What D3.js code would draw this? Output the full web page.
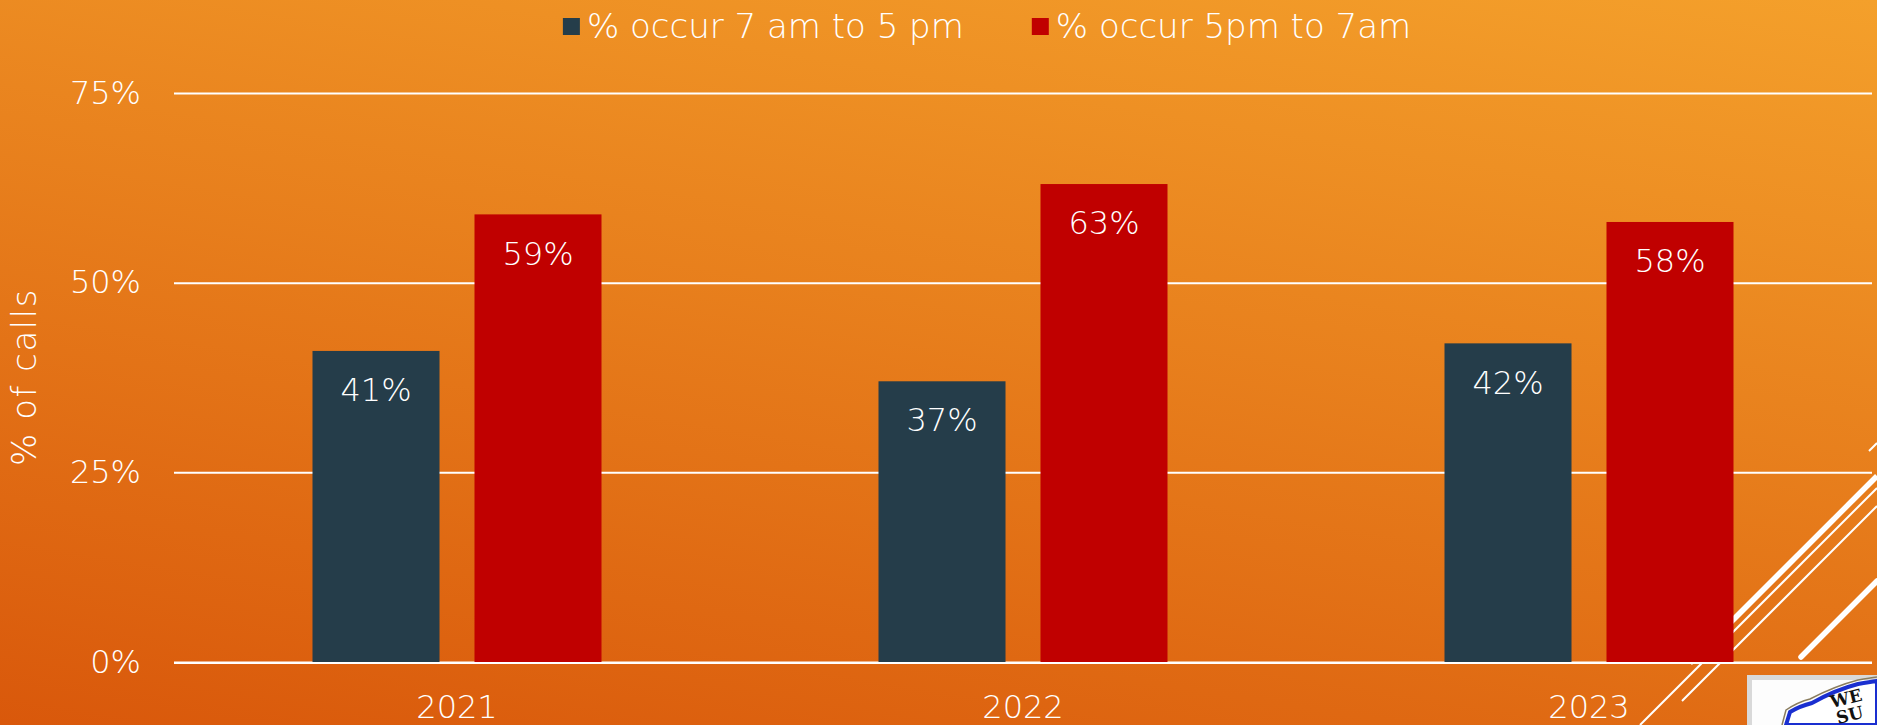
<!DOCTYPE html>
<html>
<head>
<meta charset="utf-8">
<script src="https://cdn.jsdelivr.net/npm/d3@7"></script>
<style>
  html, body { margin: 0; padding: 0; overflow: hidden; }
  svg { display: block; }
  text { font-family: "Century Gothic", "DejaVu Sans", sans-serif; font-weight: 200; fill: #fff; }
</style>
</head>
<body>
<svg id="chart" width="1877" height="725"></svg>
<script>
var years = ["2021", "2022", "2023"];
var seriesNames = ["% occur 7 am to 5 pm", "% occur 5pm to 7am"];
var dayShare = [0.41, 0.37, 0.42];
var nightShare = [0.59, 0.63, 0.58];
var yTicks = [0, 0.25, 0.5, 0.75];
var seriesColors = ["#253d4a", "#c00000"];

var W = 1877, H = 725,
  numSize = 32,   // digits
  wordSize = 34,  // legend / title
  plot = { left: 174, right: 1872, top: 93, bottom: 662 };

var svg = d3.select("#chart");

// slide background
var grad = svg.append("defs").append("linearGradient")
  .attr("id", "bg")
  .attr("gradientUnits", "userSpaceOnUse")
  .attr("x1", 1877).attr("y1", 0)
  .attr("x2", 1716).attr("y2", 1001);
grad.append("stop").attr("offset", 0).attr("stop-color", "#f4a02b");
grad.append("stop").attr("offset", 1).attr("stop-color", "#d9580b");

svg.append("rect")
  .attr("width", W).attr("height", H)
  .attr("fill", "url(#bg)");

// theme decoration, bottom right
var deco = svg.append("g").attr("stroke", "#fff").attr("fill", "none");
deco.append("line").attr("x1", 1690).attr("y1", 663).attr("x2", 1877).attr("y2", 476)
  .attr("stroke-width", 5.5);
deco.append("line").attr("x1", 1640).attr("y1", 725).attr("x2", 1877).attr("y2", 488)
  .attr("stroke-width", 2);
deco.append("line").attr("x1", 1682).attr("y1", 701).attr("x2", 1877).attr("y2", 506)
  .attr("stroke-width", 2);
deco.append("line").attr("x1", 1801).attr("y1", 657).attr("x2", 1877).attr("y2", 581)
  .attr("stroke-width", 5.5).attr("stroke-linecap", "round");
deco.append("line").attr("x1", 1869).attr("y1", 451).attr("x2", 1877).attr("y2", 443)
  .attr("stroke-width", 2);

// logo, cut by the slide edge
var logo = svg.append("g");
logo.append("rect").attr("x", 1747).attr("y", 675).attr("width", 130).attr("height", 50)
  .attr("fill", "#d9d9d9");
logo.append("rect").attr("x", 1752).attr("y", 680).attr("width", 125).attr("height", 45)
  .attr("fill", "#fdfdfd");
logo.append("path")
  .attr("d", "M1786,725 L1790,712 Q1800,706 1812,703 Q1835,690 1858,684 Q1870,682 1877,681 L1877,725 Z")
  .attr("fill", "#fff").attr("stroke", "#1a2fd0").attr("stroke-width", 4);
logo.append("path")
  .attr("d", "M1782,725 L1786,710 Q1798,702 1810,699 Q1835,686 1858,680 Q1870,678 1877,677")
  .attr("fill", "none").attr("stroke", "#8a7d5e").attr("stroke-width", 1.5);
logo.append("text").attr("x", 1832).attr("y", 708)
  .attr("transform", "rotate(-14,1832,708)")
  .style("font-family", "'DejaVu Serif', serif").style("font-weight", 700)
  .style("font-size", "17px").style("fill", "#111").text("WE");
logo.append("text").attr("x", 1838).attr("y", 724)
  .attr("transform", "rotate(-14,1838,724)")
  .style("font-family", "'DejaVu Serif', serif").style("font-weight", 700)
  .style("font-size", "17px").style("fill", "#111").text("SU");

// scales
var x0 = d3.scaleBand().domain(years).range([plot.left, plot.right]);
var groupWidth = 289;
var x1 = d3.scaleBand().domain(seriesNames).range([0, groupWidth]).paddingInner(0.216);
var y = d3.scaleLinear().domain([0, 0.75]).range([plot.bottom, plot.top]);
var color = d3.scaleOrdinal().domain(seriesNames).range(seriesColors);

// y axis + gridlines
var yAxis = svg.append("g")
  .attr("transform", "translate(" + plot.left + ",0)")
  .call(d3.axisLeft(y).tickValues(yTicks).tickFormat(d3.format(".0%"))
    .tickSizeInner(-(plot.right - plot.left)).tickSizeOuter(0).tickPadding(33));
yAxis.select(".domain").remove();
yAxis.selectAll(".tick line").attr("stroke", "#fff").attr("stroke-width", 2);
yAxis.selectAll(".tick text").style("font-size", numSize + "px").attr("fill", "#fff");
yAxis.attr("font-family", null).attr("font-size", null);

svg.append("text")
  .attr("transform", "translate(24,377) rotate(-90)")
  .attr("text-anchor", "middle").attr("dy", "0.35em")
  .style("font-size", wordSize + "px").style("letter-spacing", "1.5px")
  .text("% of calls");

// bars
var rows = years.map(function(yr, i) {
  return { year: yr, values: [
    { series: seriesNames[0], value: dayShare[i] },
    { series: seriesNames[1], value: nightShare[i] }
  ] };
});

var groups = svg.append("g").selectAll("g")
  .data(rows).join("g")
  .attr("transform", function(d) {
    return "translate(" + (x0(d.year) + (x0.bandwidth() - groupWidth) / 2) + ",0)";
  });

groups.selectAll("rect")
  .data(function(d) { return d.values; }).join("rect")
  .attr("x", function(d) { return x1(d.series); })
  .attr("y", function(d) { return y(d.value); })
  .attr("width", x1.bandwidth())
  .attr("height", function(d) { return y(0) - y(d.value); })
  .attr("fill", function(d) { return color(d.series); });

groups.selectAll("text")
  .data(function(d) { return d.values; }).join("text")
  .attr("x", function(d) { return x1(d.series) + x1.bandwidth() / 2; })
  .attr("y", function(d) { return y(d.value) + 39; })
  .attr("text-anchor", "middle").attr("dy", "0.35em")
  .style("font-size", numSize + "px")
  .text(function(d) { return d3.format(".0%")(d.value); });

// baseline drawn over the bars
svg.append("line")
  .attr("x1", plot.left).attr("x2", plot.right)
  .attr("y1", y(0) + 1).attr("y2", y(0) + 1)
  .attr("stroke", "#fff").attr("stroke-width", 2);

// x axis labels
var xAxis = svg.append("g")
  .attr("transform", "translate(0," + plot.bottom + ")")
  .call(d3.axisBottom(x0).tickSize(0).tickPadding(0));
xAxis.select(".domain").remove();
xAxis.attr("font-family", null).attr("font-size", null);
xAxis.selectAll(".tick text")
  .attr("y", 45).attr("dy", "0.35em")
  .style("font-size", numSize + "px").attr("fill", "#fff");

// legend
var legend = svg.append("g");
var items = legend.selectAll("g").data(seriesNames).join("g");
items.append("rect").attr("width", 17).attr("height", 17).attr("y", 18)
  .attr("fill", function(d) { return color(d); });
items.append("text").attr("x", 24).attr("y", 26).attr("dy", "0.35em")
  .style("font-size", wordSize + "px")
  .text(function(d) { return d; });

var offsets = [], pos = 0;
items.each(function() {
  offsets.push(pos);
  pos += 24 + d3.select(this).select("text").node().getComputedTextLength() + 68;
});
var total = pos - 68;
items.attr("transform", function(d, i) {
  return "translate(" + (987 - total / 2 + offsets[i]) + ",0)";
});
</script>
</body>
</html>
